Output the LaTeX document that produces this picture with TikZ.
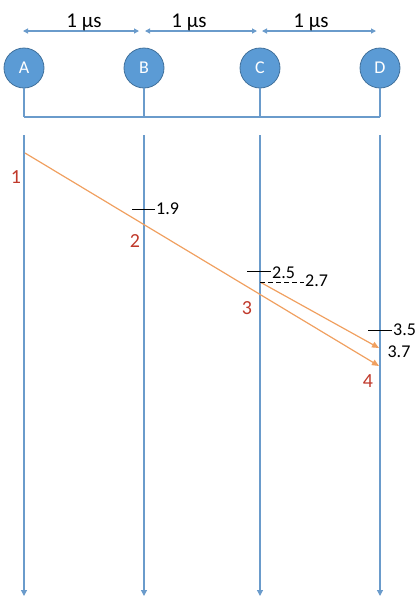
\documentclass[tikz,border=0pt]{standalone}
\usepackage{fontspec}
\setmainfont{Carlito}
\usetikzlibrary{arrows.meta}
\definecolor{nodeblue}{HTML}{5B9BD5}
\definecolor{nodeedge}{HTML}{41719C}
\definecolor{lineblue}{HTML}{6A9BCB}
\definecolor{sigorange}{HTML}{F0A060}
\definecolor{labred}{HTML}{C0392B}
\begin{document}
\begin{tikzpicture}[x=1pt,y=-1pt,
  station/.style={circle,fill=nodeblue,draw=nodeedge,line width=0.8pt,minimum size=40pt,inner sep=0pt,text=white,font=\fontsize{18}{18}\selectfont},
  bus/.style={lineblue,line width=1.8pt},
  stub/.style={lineblue,line width=1.2pt},
  timeline/.style={lineblue,line width=1.2pt,-{Triangle[width=6pt,length=6pt]}},
  dist/.style={lineblue,line width=1.2pt,{Triangle[width=5pt,length=5pt]}-{Triangle[width=5pt,length=5pt]}},
  sigarrow/.style={sigorange,line width=1.2pt,-{Triangle[width=6pt,length=7pt]}},
  tick/.style={black,line width=1pt},
  val/.style={font=\fontsize{18}{18}\selectfont,inner sep=1pt},
  evt/.style={text=labred,font=\fontsize{20}{20}\selectfont,inner sep=0pt},
  us/.style={font=\fontsize{21}{21}\selectfont,inner sep=0pt,anchor=base}]
\useasboundingbox (0,0) rectangle (417,598);
% stations
\node[station] (A) at (24,68) {A};
\node[station] (B) at (144,68) {B};
\node[station] (C) at (260,68) {C};
\node[station] (D) at (380,68) {D};
% bus
\coordinate (busA) at (24,117);
\coordinate (busB) at (144,117);
\coordinate (busC) at (260,117);
\coordinate (busD) at (380,117);
\draw[stub] (A.south) -- (busA);
\draw[stub] (B.south) -- (busB);
\draw[stub] (C.south) -- (busC);
\draw[stub] (D.south) -- (busD);
\draw[bus] (busA) -- (busD);
% distance arrows
\coordinate (dA) at (23,31);
\coordinate (dB1) at (139,31);
\coordinate (dB2) at (145,31);
\coordinate (dC1) at (257,31);
\coordinate (dC2) at (262,31);
\coordinate (dD) at (376,31);
\draw[dist] (dA) -- (dB1);
\draw[dist] (dB2) -- (dC1);
\draw[dist] (dC2) -- (dD);
\node[us] (u1) at (84,27) {1 μs};
\node[us] (u2) at (189,27) {1 μs};
\node[us] (u3) at (311,27) {1 μs};
% timelines
\coordinate (tA0) at (24,135); \coordinate (tA1) at (24,596);
\coordinate (tB0) at (144,135); \coordinate (tB1) at (144,596);
\coordinate (tC0) at (260,135); \coordinate (tC1) at (260,596);
\coordinate (tD0) at (380,135); \coordinate (tD1) at (380,596);
\draw[timeline] (tA0) -- (tA1);
\draw[timeline] (tB0) -- (tB1);
\draw[timeline] (tC0) -- (tC1);
\draw[timeline] (tD0) -- (tD1);
% signals
\coordinate (s1) at (25,153);
\coordinate (e1) at (379,366);
\coordinate (s2) at (260,282);
\coordinate (e2) at (379,348);
\draw[sigarrow] (s1) -- (e1);
\draw[sigarrow] (s2) -- (e2);
% ticks
\coordinate (k19a) at (132,209); \coordinate (k19b) at (155,209);
\draw[tick] (k19a) -- (k19b);
\node[val,anchor=west] (v19) at (k19b) {1.9};
\coordinate (k25a) at (247,271); \coordinate (k25b) at (271,271);
\draw[tick] (k25a) -- (k25b);
\node[val,anchor=west] (v25) at ([yshift=-2pt]k25b) {2.5};
\coordinate (k27a) at (260,282); \coordinate (k27b) at (304,282);
\draw[tick,dashed,dash pattern=on 5pt off 3pt] (k27a) -- (k27b);
\node[val,anchor=west] (v27) at ([yshift=1pt]k27b) {2.7};
\coordinate (k35a) at (368,330); \coordinate (k35b) at (392,330);
\draw[tick] (k35a) -- (k35b);
\node[val,anchor=west] (v35) at (k35b) {3.5};
\node[val] (v37) at (399,352) {3.7};
% event labels
\node[evt] (n1) at (16,177) {1};
\node[evt] (n2) at (135,241) {2};
\node[evt] (n3) at (247,308) {3};
\node[evt] (n4) at (368,381) {4};
\end{tikzpicture}
\end{document}
